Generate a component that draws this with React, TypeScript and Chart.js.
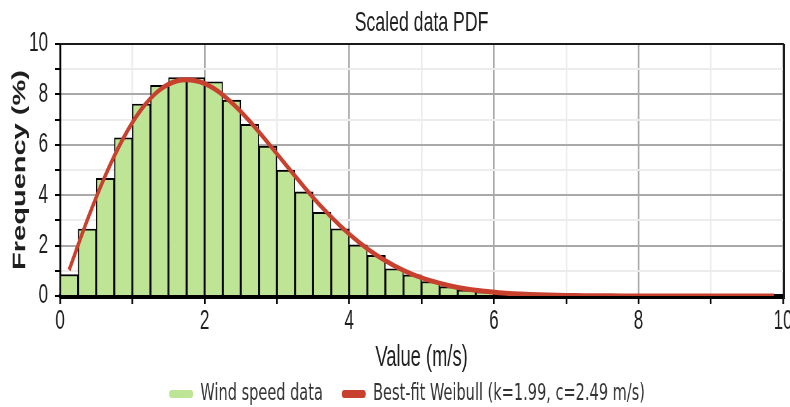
import React, { useEffect, useRef } from 'react';
import { Chart, registerables } from 'chart.js';

Chart.register(...registerables);

// ---- data ----
const BIN_CENTERS = [
  0.125, 0.375, 0.625, 0.875, 1.125, 1.375, 1.625, 1.875, 2.125, 2.375,
  2.625, 2.875, 3.125, 3.375, 3.625, 3.875, 4.125, 4.375, 4.625, 4.875,
  5.125, 5.375, 5.625, 5.875, 6.125, 6.375,
];
const BIN_FREQ = [
  0.85, 2.66, 4.67, 6.28, 7.62, 8.36, 8.67, 8.67, 8.5, 7.77,
  6.81, 5.95, 4.99, 4.13, 3.32, 2.67, 2.03, 1.61, 1.08, 0.84,
  0.57, 0.37, 0.24, 0.15, 0.08, 0.04,
];
const CURVE_X = [
  0.125, 0.375, 0.625, 0.875, 1.125, 1.375, 1.625, 1.875, 2.125, 2.375,
  2.625, 2.875, 3.125, 3.375, 3.625, 3.875, 4.125, 4.375, 4.625, 4.875,
  5.125, 5.375, 5.625, 5.875, 6.125, 6.375, 6.625, 6.875, 7.125, 7.375,
  7.625, 7.875, 8.125, 8.375, 8.625, 8.875, 9.125, 9.375, 9.625, 9.875,
];
const CURVE_Y = [
  1.03, 3.0, 4.77, 6.26, 7.41, 8.17, 8.54, 8.54, 8.24, 7.67,
  6.93, 6.08, 5.2, 4.33, 3.51, 2.78, 2.15, 1.62, 1.2, 0.86,
  0.61, 0.42, 0.28, 0.19, 0.12, 0.08, 0.05, 0.03, 0.02, 0.01,
  0.006, 0.003, 0.002, 0.001, 0.001, 0, 0, 0, 0, 0,
];
const X_TICK_LABELS = [0, 2, 4, 6, 8, 10];
const Y_TICK_LABELS = [0, 2, 4, 6, 8, 10];
const SERIES_LABELS = ['Wind speed data', 'Best-fit Weibull (k=1.99, c=2.49 m/s)'];
const TITLE = 'Scaled data PDF';
const X_TITLE = 'Value (m/s)';
const Y_TITLE = 'Frequency (%)';

// ---- styling ----
const GREEN = '#bee496';
const RED = '#c8412f';
const TEXT = '#1e1e1e';
const MAJOR = '#a9a9a9';
const MINOR = '#ececec';
const FONT = "'Liberation Sans', Arial, sans-serif";
const LEGEND_FONT = "'DejaVu Sans', Verdana, sans-serif";
const LEGEND_SIZE = 23;

// internal drawing width is compressed horizontally to the display width
const W = 1250;
const H = 407;
const DISPLAY_W = 790;
const LEGEND_PAD = 30;
const LEGEND_TOP = 394 - LEGEND_PAD - LEGEND_SIZE / 2;
const LEGEND_DX = 24.5;

const framePlugin = {
  id: 'frame',
  afterDatasetDraw(chart: any, args: any) {
    if (args.index !== 0) return;
    const { ctx, chartArea: a } = chart;
    ctx.save();
    ctx.strokeStyle = '#000';
    ctx.lineWidth = 4;
    ctx.beginPath();
    ctx.moveTo(a.left, a.bottom + 1);
    ctx.lineTo(a.right + 2, a.bottom + 1);
    ctx.stroke();
    ctx.restore();
  },
  afterDatasetsDraw(chart: any) {
    const { ctx, chartArea: a } = chart;
    ctx.save();
    ctx.strokeStyle = '#1a1a1a';
    ctx.lineWidth = 2.2;
    ctx.beginPath();
    ctx.moveTo(a.left, a.top);
    ctx.lineTo(a.right + 1.5, a.top);
    ctx.stroke();
    ctx.lineWidth = 3;
    ctx.beginPath();
    ctx.moveTo(a.right + 1.5, a.top);
    ctx.lineTo(a.right + 1.5, a.bottom + 3);
    ctx.stroke();
    ctx.restore();
  },
};

const legendShift = {
  id: 'legendShift',
  afterLayout(chart: any) {
    const lg = chart.legend;
    if (!lg) return;
    lg.top = LEGEND_TOP;
    lg.bottom = H;
    lg.height = H - LEGEND_TOP;
    lg.left += LEGEND_DX;
    lg.right += LEGEND_DX;
  },
};

export default function App() {
  const ref = useRef<HTMLCanvasElement | null>(null);

  useEffect(() => {
    document.body.style.margin = '0';
    const canvas = ref.current;
    if (!canvas) return;
    const swatches = [GREEN, RED];
    const chart = new Chart(canvas, {
      type: 'bar',
      data: {
        datasets: [
          {
            type: 'bar',
            label: SERIES_LABELS[0],
            data: BIN_CENTERS.map((x, i) => ({ x, y: BIN_FREQ[i] })),
            backgroundColor: GREEN,
            borderColor: '#000',
            borderWidth: 1.9,
            borderSkipped: 'bottom',
            barPercentage: 1,
            categoryPercentage: 1,
            order: 1,
          } as any,
          {
            type: 'line',
            label: SERIES_LABELS[1],
            data: CURVE_X.map((x, i) => ({ x, y: CURVE_Y[i] })),
            borderColor: RED,
            backgroundColor: RED,
            borderWidth: 5,
            pointRadius: 0,
            tension: 0.3,
            fill: false,
            order: 0,
          } as any,
        ],
      },
      options: {
        responsive: false,
        animation: false,
        devicePixelRatio: 1,
        layout: { padding: { top: 0, right: 11, bottom: 0, left: 0 } },
        events: [],
        scales: {
          x: {
            type: 'linear',
            min: 0,
            max: 10,
            offset: false,
            afterFit: (s: any) => {
              s.height = 110;
              s.paddingLeft = 0;
              s.paddingRight = 0;
            },
            ticks: {
              stepSize: 1,
              autoSkip: false,
              maxRotation: 0,
              padding: 1.5,
              color: TEXT,
              font: { family: FONT, size: 27 },
              callback: (v: any) => (X_TICK_LABELS.includes(Number(v)) ? String(v) : ''),
            },
            grid: {
              color: (c: any) => (c.tick && c.tick.value % 2 === 0 ? MAJOR : MINOR),
              lineWidth: 2.6,
              tickLength: 8,
              tickColor: '#000',
              tickWidth: 2.6,
              offset: false,
            },
            border: { display: true, color: '#000', width: 4 },
            title: {
              display: true,
              text: X_TITLE,
              color: TEXT,
              font: { family: FONT, size: 29 },
              padding: { top: 0, bottom: 30.6 },
            },
          } as any,
          y: {
            type: 'linear',
            min: 0,
            max: 10,
            afterFit: (s: any) => {
              s.width = 95;
            },
            ticks: {
              stepSize: 1,
              autoSkip: false,
              padding: 11,
              color: TEXT,
              font: { family: FONT, size: 27 },
              callback: (v: any) => (Y_TICK_LABELS.includes(Number(v)) ? String(v) : ''),
            },
            grid: {
              color: (c: any) => (c.tick && c.tick.value % 2 === 0 ? MAJOR : MINOR),
              lineWidth: 2,
              tickLength: 8,
              tickColor: '#000',
              tickWidth: 2,
            },
            border: { display: true, color: '#000', width: 3 },
            title: {
              display: true,
              text: Y_TITLE,
              color: TEXT,
              font: { family: FONT, size: 29, weight: 'bold' },
              padding: { top: 14.2, bottom: 0 },
            },
          } as any,
        },
        plugins: {
          title: {
            display: true,
            text: TITLE,
            fullSize: false,
            color: TEXT,
            font: { family: FONT, size: 28, weight: 'normal' },
            padding: { top: 6, bottom: 4.4 },
          },
          legend: {
            display: true,
            position: 'bottom',
            maxHeight: 1,
            labels: {
              boxWidth: 38,
              boxHeight: 8,
              padding: LEGEND_PAD,
              color: '#333',
              font: { family: LEGEND_FONT, size: LEGEND_SIZE },
              generateLabels: (ch: any) =>
                ch.data.datasets.map((ds: any, i: number) => ({
                  text: ds.label,
                  fillStyle: swatches[i],
                  strokeStyle: swatches[i],
                  lineWidth: 0,
                  hidden: false,
                  datasetIndex: i,
                  borderRadius: 4,
                  fontColor: '#333',
                })),
            },
          } as any,
          tooltip: { enabled: false },
        },
      } as any,
      plugins: [framePlugin, legendShift],
    });
    return () => chart.destroy();
  }, []);

  return (
    <canvas
      ref={ref}
      width={W}
      height={H}
      style={{ width: DISPLAY_W + 'px', height: H + 'px', display: 'block' }}
    />
  );
}
